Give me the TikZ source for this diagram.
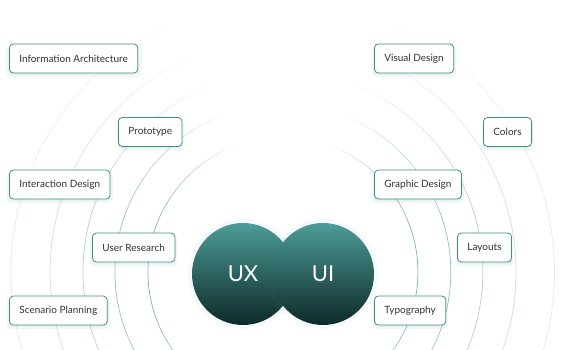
\documentclass[tikz,border=0pt]{standalone}
\usepackage{fontspec}
\setmainfont{Lato}
\usetikzlibrary{fadings,shadows}
\definecolor{uxteal}{HTML}{3E8E89}
\definecolor{uxtop}{HTML}{4C9C97}
\definecolor{uxbottom}{HTML}{0E2929}
\definecolor{uxtext}{HTML}{2E3333}
\pgfdeclarehorizontalshading{ringfadeshade}{100bp}{color(0bp)=(white); color(24bp)=(white); color(42bp)=(black); color(58bp)=(black); color(76bp)=(white); color(100bp)=(white)}
\pgfdeclarefading{ringfade}{\pgfuseshading{ringfadeshade}}
\tikzset{
 topic/.style={draw=uxteal, line width=0.8pt, fill=white, rounded corners=4pt,
  minimum height=29pt, inner xsep=10pt, anchor=west, text=uxtext,
  font=\fontsize{10}{12}\selectfont,
  general shadow={fill=uxteal, opacity=0.07, shadow yshift=-3pt, shadow scale=1.06},
  general shadow={fill=uxteal, opacity=0.06, shadow yshift=-1.5pt, shadow scale=1.02}},
 core/.style={circle, minimum size=102pt, inner sep=0pt, top color=uxtop,
  bottom color=uxbottom, text=white, font=\fontsize{22}{26}\selectfont,
  general shadow={fill=uxteal, opacity=0.05, shadow scale=1.08}},
 ring/.style={line width=0.7pt, path fading=ringfade}
}
\begin{document}
\begin{tikzpicture}[x=1pt,y=1pt]
 \useasboundingbox (0,0) rectangle (565,350);
 \clip (0,0) rectangle (565,350);
 \coordinate (ringc) at (283,78);
 \foreach \r/\c in {135/75,168/62,200/45,233/30,272/18}
  \draw[ring, uxteal!\c] (ringc) circle (\r pt);

 \node[core] (ux) at (243,76) {UX};
 \node[core] (ui) at (323,76) {UI};

 \node[topic] (infoarch) at (9,291.5) {Information Architecture};
 \node[topic] (prototype) at (118,218) {Prototype};
 \node[topic] (interaction) at (9,165.5) {Interaction Design};
 \node[topic] (research) at (92,102.5) {User Research};
 \node[topic] (scenario) at (9,39.5) {Scenario Planning};

 \node[topic] (visual) at (374,291.5) {Visual Design};
 \node[topic] (colors) at (483,218) {Colors};
 \node[topic] (graphic) at (374,165.5) {Graphic Design};
 \node[topic] (layouts) at (457,102.5) {Layouts};
 \node[topic] (typo) at (374,39.5) {Typography};
\end{tikzpicture}
\end{document}
